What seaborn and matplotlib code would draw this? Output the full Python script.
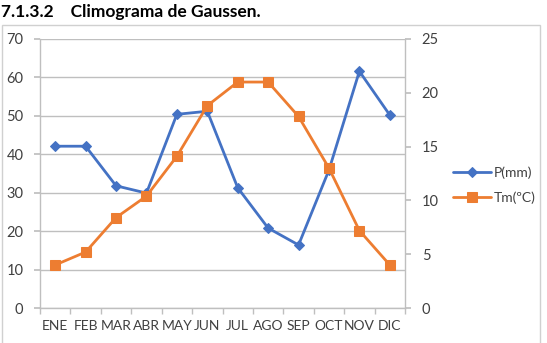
import numpy as np
import pandas as pd
import matplotlib
matplotlib.use('Agg')
import matplotlib.pyplot as plt
import seaborn as sns
from matplotlib.patches import Rectangle

# --- Data ---
months = ['ENE', 'FEB', 'MAR', 'ABR', 'MAY', 'JUN', 'JUL', 'AGO', 'SEP', 'OCT', 'NOV', 'DIC']
precip = [42.1, 42.1, 31.8, 29.9, 50.4, 51.2, 31.3, 20.8, 16.4, 35.9, 61.6, 50.2]
temp = [4.0, 5.2, 8.4, 10.4, 14.1, 18.8, 21.0, 21.0, 17.8, 13.0, 7.2, 4.0]

df = pd.DataFrame({'mes': months, 'x': range(len(months)), 'P': precip, 'T': temp})

# --- Style ---
sns.set_theme(style='white')
plt.rcParams['font.family'] = ['Lato', 'DejaVu Sans']
blue = '#4472C4'
orange = '#ED7D31'
grey = '#BFBFBF'
txt = '#404040'

fig = plt.figure(figsize=(5.47, 3.43), dpi=100)
W, H = 547, 343
ax = fig.add_axes([40 / W, 1 - 308 / H, (405 - 40) / W, (308 - 39) / H])
ax2 = ax.twinx()

sns.lineplot(data=df, x='x', y='P', ax=ax, color=blue, marker='D', markersize=5,
             markeredgecolor=blue, linewidth=2, label='P(mm)', legend=False)
sns.lineplot(data=df, x='x', y='T', ax=ax2, color=orange, marker='s', markersize=7,
             markeredgecolor=orange, linewidth=2, label='Tm(ºC)', legend=False)

ax.set_xlim(-0.5, len(months) - 0.5)
ax.set_ylim(0, 70)
ax2.set_ylim(0, 25)
ax.set_yticks(range(0, 71, 10))
ax2.set_yticks(range(0, 26, 5))
ax.set_xticks(range(len(months)))
ax.set_xticklabels(months)
ax.set_xticks(np.arange(-0.5, len(months), 1), minor=True)
ax.tick_params(axis='x', which='major', length=0, pad=9, labelsize=10, labelcolor=txt)
ax.tick_params(axis='x', which='minor', length=4, color=grey, direction='out', bottom=True)
ax.tick_params(axis='y', length=4, color=grey, direction='out', labelsize=10.5, labelcolor=txt, pad=8, left=True)
ax2.tick_params(axis='y', length=4, color=grey, direction='out', labelsize=10.5, labelcolor=txt, pad=8, right=True)
ax.set_xlabel('')
ax.set_ylabel('')
ax2.set_ylabel('')

ax.yaxis.grid(True, color=grey, linewidth=1)
ax.set_axisbelow(True)
for a in (ax, ax2):
    a.spines['top'].set_visible(False)
    for s in ('left', 'right', 'bottom'):
        a.spines[s].set_color(grey)
        a.spines[s].set_linewidth(1)
ax.spines['right'].set_visible(False)
ax2.spines['left'].set_visible(False)
ax2.spines['bottom'].set_visible(False)

# legend
h1, l1 = ax.get_legend_handles_labels()
h2, l2 = ax2.get_legend_handles_labels()
fig.legend(h1 + h2, l1 + l2, loc='center left', bbox_to_anchor=(440 / W, 1 - 185 / H),
           frameon=False, fontsize=10, handlelength=2.8, handletextpad=0.15,
           labelspacing=0.9, labelcolor=txt)

# chart frame and title
fig.patches.append(Rectangle((2 / W, -0.05), (540 - 2) / W, 1.05 - 25 / H,
                             transform=fig.transFigure, fill=False,
                             edgecolor='#D0D0D0', linewidth=1))
fig.text(1 / W, 1 - 12 / H, '7.1.3.2    Climograma de Gaussen.', fontsize=12.5,
         fontweight='bold', va='center', ha='left', color='black')

fig.savefig('out.png', dpi=100)
